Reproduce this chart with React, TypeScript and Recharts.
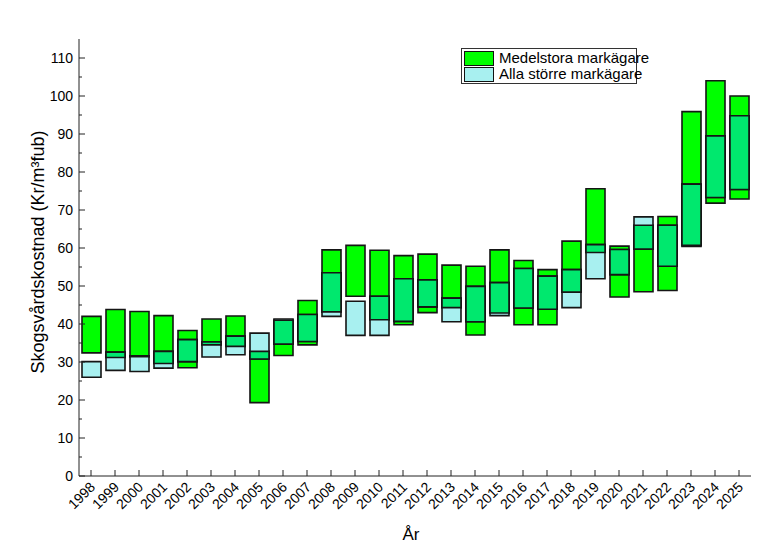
import React from 'react'
import { BarChart, Bar, XAxis, YAxis, Label } from 'recharts'

const years = [
  '1998', '1999', '2000', '2001', '2002', '2003', '2004', '2005', '2006', '2007',
  '2008', '2009', '2010', '2011', '2012', '2013', '2014', '2015', '2016', '2017',
  '2018', '2019', '2020', '2021', '2022', '2023', '2024', '2025',
]

// Medelstora markägare, låg/hög
const medelLow = [
  32.4, 31.2, 31.4, 29.6, 28.5, 34.5, 34.1, 19.3, 31.7, 34.5,
  43.2, 47.3, 41.1, 39.8, 43.0, 44.3, 37.1, 42.9, 39.8, 39.8,
  48.4, 58.8, 47.1, 48.5, 48.8, 60.4, 71.8, 72.9,
]
const medelHigh = [
  42.0, 43.8, 43.3, 42.2, 38.3, 41.3, 42.1, 32.8, 41.0, 46.2,
  59.5, 60.7, 59.4, 58.0, 58.4, 55.5, 55.2, 59.5, 56.7, 54.3,
  61.8, 75.6, 60.5, 66.0, 68.3, 95.9, 104.0, 100.0,
]

// Alla större markägare, låg/hög
const storreLow = [
  26.0, 27.8, 27.5, 28.4, 30.1, 31.3, 31.9, 30.8, 34.7, 35.4,
  42.0, 37.0, 37.0, 40.7, 44.5, 40.6, 40.6, 42.2, 44.2, 43.9,
  44.3, 51.9, 53.0, 59.7, 55.2, 60.7, 73.3, 75.4,
]
const storreHigh = [
  30.1, 32.6, 31.6, 32.8, 35.9, 35.3, 36.8, 37.6, 41.3, 42.5,
  53.5, 46.0, 47.3, 51.9, 51.6, 46.8, 49.9, 50.9, 54.6, 52.6,
  54.3, 60.9, 59.6, 68.2, 66.0, 76.8, 89.5, 94.8,
]

const yTicks = [0, 5, 10, 15, 20, 25, 30, 35, 40, 45, 50, 55, 60, 65, 70, 75, 80, 85, 90, 95, 100, 105, 110]

const seriesNames = ['Medelstora markägare', 'Alla större markägare']
const seriesColors = ['#00ff00', '#a8f0f0']
const overlapColor = '#00e86e'

const FONT = '"Liberation Sans", Arial, sans-serif'
const AXIS_Y = 476

const data = years.map((year, i) => {
  const lo = Math.max(medelLow[i], storreLow[i])
  const hi = Math.min(medelHigh[i], storreHigh[i])
  return {
    year,
    medel: [medelLow[i], medelHigh[i]],
    storre: [storreLow[i], storreHigh[i]],
    both: hi > lo ? [lo, hi] : undefined,
  }
})

const XTick = (props: any) => {
  const { x, payload } = props
  const y = AXIS_Y
  return (
    <g>
      <line x1={x} y1={y} x2={x} y2={y - 6} stroke="#222" strokeWidth={1} />
      <text
        x={0}
        y={0}
        transform={`translate(${x + 5},${y + 12}) rotate(-45)`}
        textAnchor="end"
        fontSize={14}
        fontFamily={FONT}
        fill="#000"
      >
        {payload.value}
      </text>
    </g>
  )
}

const YTick = (props: any) => {
  const { x, y, payload } = props
  const major = payload.value % 10 === 0
  return (
    <g>
      <line x1={x} y1={y} x2={x + (major ? 6 : 3)} y2={y} stroke="#222" strokeWidth={1} />
      {major && (
        <text x={x - 6} y={y} dy="0.36em" textAnchor="end" fontSize={14} fontFamily={FONT} fill="#000">
          {payload.value}
        </text>
      )}
    </g>
  )
}

const ChartLegend = () => (
  <div
    style={{
      position: 'absolute',
      left: 461,
      top: 48,
      width: 176,
      height: 36,
      border: '1px solid #333',
      background: '#fff',
      fontFamily: FONT,
      fontSize: 15,
      boxSizing: 'border-box',
      paddingTop: 1,
    }}
  >
    {seriesNames.map((name, i) => (
      <div key={name} style={{ display: 'flex', alignItems: 'center', height: 16, whiteSpace: 'nowrap' }}>
        <div
          style={{
            flex: 'none',
            width: 30,
            height: 15,
            marginLeft: 2,
            marginRight: 5,
            background: seriesColors[i],
            border: '1px solid #111',
            boxSizing: 'border-box',
          }}
        />
        <span style={{ lineHeight: '16px', whiteSpace: 'nowrap' }}>{name}</span>
      </div>
    ))}
  </div>
)

export default function App() {
  return (
    <div style={{ position: 'absolute', left: 0, top: 0, width: 768, height: 544, background: '#fff' }}>
      <BarChart
        width={768}
        height={544}
        data={data}
        margin={{ top: 39, right: 17, left: 0, bottom: 0 }}
      >
        <XAxis
          xAxisId="main"
          dataKey="year"
          interval={0}
          height={68}
          tickSize={0}
          tickMargin={0}
          tickLine={false}
          tick={<XTick />}
          stroke="#222"
        >
          <Label
            content={() => (
              <text x={411} y={540} textAnchor="middle" fontSize={17} fontFamily={FONT} fill="#000">
                År
              </text>
            )}
          />
        </XAxis>
        <XAxis
          xAxisId="top"
          dataKey="year"
          orientation="top"
          height={0}
          tick={false}
          tickLine={false}
          stroke="#222"
        />
        <XAxis xAxisId="hid" dataKey="year" orientation="top" height={0} hide />
        <YAxis
          width={79}
          domain={[0, 115]}
          ticks={yTicks}
          interval={0}
          tickSize={0}
          tickMargin={0}
          tickLine={false}
          tick={<YTick />}
          stroke="#222"
        >
          <Label
            content={() => (
              <text
                x={38}
                y={252}
                transform="rotate(-90, 38, 252)"
                textAnchor="middle"
                dominantBaseline="central"
                fontSize={18}
                fontFamily={FONT}
                fill="#000"
              >
                Skogsvårdskostnad (Kr/m³fub)
              </text>
            )}
          />
        </YAxis>
        <YAxis
          yAxisId="r"
          orientation="right"
          width={0}
          domain={[0, 115]}
          tick={false}
          tickLine={false}
          stroke="#222"
        />
        <Bar
          xAxisId="main"
          dataKey="medel"
          name={seriesNames[0]}
          fill={seriesColors[0]}
          stroke="#151515"
          strokeWidth={1.6}
          barSize={19}
          isAnimationActive={false}
        />
        <Bar
          xAxisId="top"
          dataKey="storre"
          name={seriesNames[1]}
          fill={seriesColors[1]}
          stroke="#151515"
          strokeWidth={1.6}
          barSize={19}
          isAnimationActive={false}
        />
        <Bar
          xAxisId="hid"
          dataKey="both"
          fill={overlapColor}
          stroke="#151515"
          strokeWidth={1.6}
          barSize={19}
          isAnimationActive={false}
        />
      </BarChart>
      <ChartLegend />
    </div>
  )
}
